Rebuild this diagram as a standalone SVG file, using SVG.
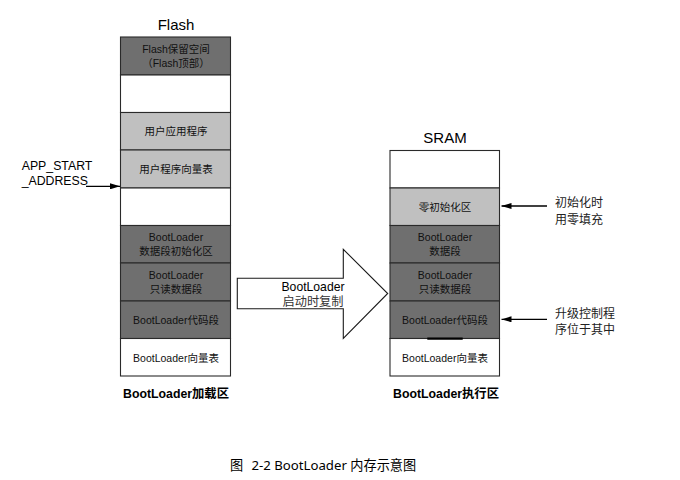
<svg xmlns="http://www.w3.org/2000/svg" width="680" height="480" viewBox="0 0 680 480">
<style>
.box{stroke:#2a2a2a;stroke-width:1.1}
.dark{fill:#6f6f6f}
.light{fill:#c0c0c0}
.white{fill:#ffffff}
.t{font-family:"Liberation Sans","Noto Sans CJK SC",sans-serif;font-size:10.5px;fill:#111;text-anchor:middle}
.title{font-family:"Liberation Sans","Noto Sans CJK SC",sans-serif;font-size:15px;fill:#000;text-anchor:middle}
.zone{font-family:"Liberation Sans","Noto Sans CJK SC",sans-serif;font-size:12.3px;font-weight:bold;fill:#000;text-anchor:middle}
.note{font-family:"Noto Sans CJK SC",sans-serif;font-size:12px;fill:#222}
.lbl{font-family:"Liberation Sans","Noto Sans CJK SC",sans-serif;font-size:12.3px;fill:#000}
.cap{font-family:"Noto Sans","Noto Sans CJK SC",sans-serif;font-size:13.2px;fill:#000}
.conn{stroke:#000;stroke-width:1.3;fill:none}
</style>
<defs>
<marker id="ah" markerUnits="userSpaceOnUse" markerWidth="10" markerHeight="6" refX="10" refY="3" orient="auto">
<path d="M0,0 L10,3 L0,6 z" fill="#000"/>
</marker>
</defs>
<rect width="680" height="480" fill="#fff"/>

<text class="title" x="176" y="29.5">Flash</text>
<text class="title" x="445" y="142.7">SRAM</text>

<g id="flash-reserved"><rect class="box dark" x="120.5" y="37" width="110" height="38"/><text class="t" x="176" y="53.2">Flash保留空间</text><text class="t" x="176" y="67.2">（Flash顶部）</text></g>
<g id="flash-empty1"><rect class="box white" x="120.5" y="75" width="110" height="37.5"/></g>
<g id="flash-app"><rect class="box light" x="120.5" y="112.5" width="110" height="37.5"/><text class="t" x="176" y="135.4">用户应用程序</text></g>
<g id="flash-appvec"><rect class="box light" x="120.5" y="150" width="110" height="38"/><text class="t" x="176" y="173">用户程序向量表</text></g>
<g id="flash-empty2"><rect class="box white" x="120.5" y="188" width="110" height="37.5"/></g>
<g id="flash-bl-datainit"><rect class="box dark" x="120.5" y="225.5" width="110" height="37.5"/><text class="t" x="176" y="241.2">BootLoader</text><text class="t" x="176" y="255">数据段初始化区</text></g>
<g id="flash-bl-ro"><rect class="box dark" x="120.5" y="263" width="110" height="38"/><text class="t" x="176" y="279.2">BootLoader</text><text class="t" x="176" y="293">只读数据段</text></g>
<g id="flash-bl-code"><rect class="box dark" x="120.5" y="301" width="110" height="37.5"/><text class="t" x="176" y="323.9">BootLoader代码段</text></g>
<g id="flash-bl-vec"><rect class="box white" x="120.5" y="338.5" width="110" height="37.5"/><text class="t" x="176" y="361.6">BootLoader向量表</text></g>
<text class="zone" x="176" y="397.5">BootLoader加载区</text>

<g id="sram-empty"><rect class="box white" x="390" y="150.5" width="109.5" height="37.5"/></g>
<g id="sram-zi"><rect class="box light" x="390" y="188" width="109.5" height="37.5"/><text class="t" x="445" y="211.2">零初始化区</text></g>
<g id="sram-bl-data"><rect class="box dark" x="390" y="225.5" width="109.5" height="37.5"/><text class="t" x="445" y="241.2">BootLoader</text><text class="t" x="445" y="255">数据段</text></g>
<g id="sram-bl-ro"><rect class="box dark" x="390" y="263" width="109.5" height="38"/><text class="t" x="445" y="279.2">BootLoader</text><text class="t" x="445" y="293">只读数据段</text></g>
<g id="sram-bl-code"><rect class="box dark" x="390" y="301" width="109.5" height="37.5"/><text class="t" x="445" y="323.9">BootLoader代码段</text></g>
<g id="sram-bl-vec"><rect class="box white" x="390" y="338.5" width="109.5" height="37.5"/><text class="t" x="445" y="362.2">BootLoader向量表</text></g>
<line x1="427.3" y1="338.7" x2="462.7" y2="338.7" stroke="#000" stroke-width="2.2"/>
<text class="zone" x="446" y="398">BootLoader执行区</text>

<g id="copy-arrow">
<polygon points="237.3,278.3 343.3,278.3 343.3,249.3 387.7,293.5 343.3,338.3 343.3,308.7 237.3,308.7" fill="#fff" stroke="#1a1a1a" stroke-width="1.1"/>
<text class="lbl" x="313" y="290.5" text-anchor="middle" style="font-size:12.2px">BootLoader</text>
<text class="lbl" x="313" y="306" text-anchor="middle" style="font-size:12.2px;fill:#333">启动时复制</text>
</g>

<g id="app-start-label">
<text class="lbl" x="21.7" y="170">APP_START</text>
<text class="lbl" x="21.7" y="184.5">_ADDRESS</text>
</g>
<g id="zi-note"><text class="note" x="555" y="207.3">初始化时</text><text class="note" x="555" y="224">用零填充</text></g>
<g id="upgrade-note"><text class="note" x="555" y="318">升级控制程</text><text class="note" x="555" y="334">序位于其中</text></g>

<g id="connectors">
<line class="conn" x1="86" y1="186.3" x2="120" y2="186.3" marker-end="url(#ah)"/>
<line class="conn" x1="547" y1="206" x2="501.5" y2="206" marker-end="url(#ah)"/>
<line class="conn" x1="547" y1="319.3" x2="501.5" y2="319.3" marker-end="url(#ah)"/>
</g>

<text class="cap" y="470"><tspan x="230">图</tspan><tspan x="251.5">2-2 BootLoader 内存示意图</tspan></text>
</svg>
